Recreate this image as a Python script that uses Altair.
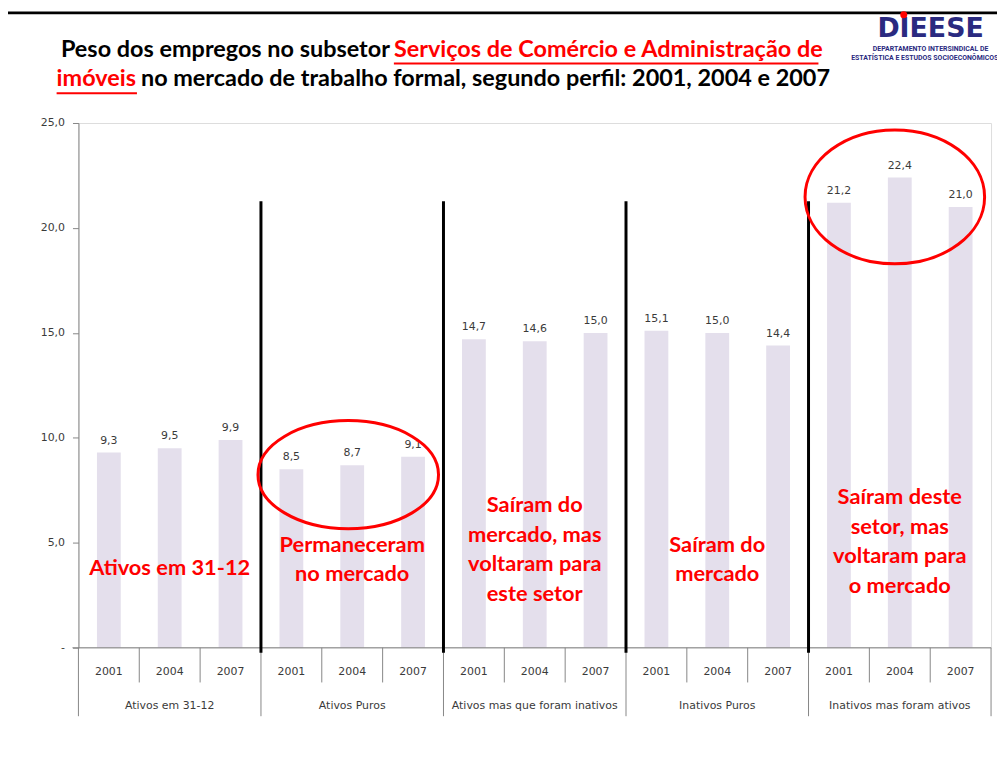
import altair as alt
import pandas as pd

groups = ["Ativos em 31-12", "Ativos Puros", "Ativos mas que foram inativos",
          "Inativos Puros", "Inativos mas foram ativos"]
years = ["2001", "2004", "2007"]
values = [9.3, 9.5, 9.9,
          8.5, 8.7, 9.1,
          14.7, 14.6, 15.0,
          15.1, 15.0, 14.4,
          21.2, 22.4, 21.0]

annotations = ["Ativos em 31-12",
               "Permaneceram\nno mercado",
               "Saíram do\nmercado, mas\nvoltaram para\neste setor",
               "Saíram do\nmercado",
               "Saíram deste\nsetor, mas\nvoltaram para\no mercado"]

rows = []
for gi, g in enumerate(groups):
    for yi, yr in enumerate(years):
        i = gi * 3 + yi
        rows.append({"group": g, "year": yr, "value": values[i], "pos": i + 0.5})
df = pd.DataFrame(rows)

W, H = 920, 529
xs = alt.Scale(domain=[0, 15], nice=False, zero=False, padding=0)
ys = alt.Scale(domain=[0, 25], nice=False, padding=0)
AX = "#868686"
TXT = "#3a3a3a"
FONT = "DejaVu Sans"
RED = "#ff0000"

y_axis = alt.Axis(values=[0, 5, 10, 15, 20, 25], grid=False, title=None,
                  labelExpr="datum.value == 0 ? '-' : replace(format(datum.value, '.1f'), '.', ',')",
                  domainColor=AX, tickColor=AX, tickSize=6, labelPadding=8,
                  labelFont=FONT, labelFontSize=11, labelColor=TXT)

base = alt.Chart(df)

bars = base.mark_bar(size=24, color="#e4dfec").encode(
    x=alt.X("pos:Q", scale=xs, axis=None),
    y=alt.Y("value:Q", scale=ys, axis=y_axis),
)

vlabels = base.transform_calculate(
    lab="replace(format(datum.value, '.1f'), '.', ',')"
).mark_text(baseline="bottom", dy=-7, font=FONT, fontSize=11, color=TXT).encode(
    x=alt.X("pos:Q", scale=xs, axis=None),
    y=alt.Y("value:Q", scale=ys, axis=y_axis),
    text="lab:N",
)

one = pd.DataFrame({"a": [0]})

# x-axis baseline
xline = alt.Chart(one).mark_rule(color=AX, strokeWidth=1).encode(
    x=alt.value(-6), x2=alt.value(W), y=alt.value(H))

# separators below axis
year_sep = pd.DataFrame({"p": [i for i in range(16) if i % 3 != 0]})
group_sep = pd.DataFrame({"p": [i for i in range(16) if i % 3 == 0]})
ysep = alt.Chart(year_sep).mark_rule(color=AX, strokeWidth=1).encode(
    x=alt.X("p:Q", scale=xs, axis=None), y=alt.value(H), y2=alt.value(H + 35))
gsep = alt.Chart(group_sep).mark_rule(color=AX, strokeWidth=1).encode(
    x=alt.X("p:Q", scale=xs, axis=None), y=alt.value(H), y2=alt.value(H + 69))

year_lab = base.mark_text(font=FONT, fontSize=11, color=TXT, baseline="middle").encode(
    x=alt.X("pos:Q", scale=xs, axis=None), y=alt.value(H + 24), text="year:N")

gdf = pd.DataFrame({"group": groups, "gpos": [gi * 3 + 1.5 for gi in range(len(groups))],
                    "ann": annotations})
group_lab = alt.Chart(gdf).mark_text(font=FONT, fontSize=11, color=TXT, baseline="middle").encode(
    x=alt.X("gpos:Q", scale=xs, axis=None), y=alt.value(H + 59), text="group:N")

# thick black separators between groups
thick = alt.Chart(pd.DataFrame({"p": [3, 6, 9, 12]})).mark_rule(color="black", strokeWidth=3).encode(
    x=alt.X("p:Q", scale=xs, axis=None), y=alt.value(79), y2=alt.value(H + 5))

# red annotations (y = first line)
ann_y = [449, 425, 385, 425, 377]
ann_layers = []
for gi in range(len(groups)):
    d = gdf.iloc[[gi]]
    ann_layers.append(
        alt.Chart(d).mark_text(font="Lato", fontSize=22, fontWeight="bold", color=RED,
                               lineBreak="\n", lineHeight=30, baseline="middle").encode(
            x=alt.X("gpos:Q", scale=xs, axis=None), y=alt.value(ann_y[gi]), text="ann:N")
    )

# ellipses
def ellipse_path(b):
    k = 0.5523
    return (f"M-1,0C-1,{-k*b:.4f} {-k:.4f},{-b:.4f} 0,{-b:.4f}"
            f"C{k:.4f},{-b:.4f} 1,{-k*b:.4f} 1,0"
            f"C1,{k*b:.4f} {k:.4f},{b:.4f} 0,{b:.4f}"
            f"C{-k:.4f},{b:.4f} -1,{k*b:.4f} -1,0Z")

def ellipse(cx, cy, rx, ry):
    return alt.Chart(one).mark_point(
        shape=ellipse_path(ry / rx), size=(2 * rx) ** 2, filled=False,
        stroke=RED, strokeWidth=3, opacity=1).encode(x=alt.value(cx), y=alt.value(cy))

ell1 = ellipse(272, 354.5, 91, 54.5)
ell2 = ellipse(823, 74.5, 90.5, 67.5)

# frame
frame_top = alt.Chart(one).mark_rule(color="black", strokeWidth=3).encode(
    x=alt.value(-77), x2=alt.value(930), y=alt.value(-111))
frame_left = alt.Chart(one).mark_rule(color="black", strokeWidth=3).encode(
    x=alt.value(-77), y=alt.value(-112), y2=alt.value(650))

# title
TF = "Lato"
TS = 23.6
def ttext(txt, x, y, align, color):
    return alt.Chart(pd.DataFrame({"t": [txt]})).mark_text(
        font=TF, fontSize=TS, fontWeight="bold", color=color, align=align, baseline="middle").encode(
        x=alt.value(x), y=alt.value(y), text="t:N")

t1a = ttext("Peso dos empregos no subsetor", 314, -74, "right", "black")
t1b = ttext("Serviços de Comércio e Administração de", 318, -74, "left", RED)
t2a = ttext("imóveis", -22, -44, "left", RED)
t2b = ttext("no mercado de trabalho formal, segundo perfil: 2001, 2004 e 2007", 63, -44, "left", "black")
u1 = alt.Chart(one).mark_rule(color=RED, strokeWidth=2).encode(
    x=alt.value(318), x2=alt.value(746), y=alt.value(-60))
u2 = alt.Chart(one).mark_rule(color=RED, strokeWidth=2).encode(
    x=alt.value(-22), x2=alt.value(59), y=alt.value(-30))

# logo
NAVY = "#2a2a80"
logo = alt.Chart(pd.DataFrame({"t": ["DIEESE"]})).mark_text(
    font="DejaVu Sans", fontSize=27, fontWeight="bold", color=NAVY, align="center",
    baseline="alphabetic").encode(x=alt.value(859), y=alt.value(-87), text="t:N")
logo_dot = alt.Chart(one).mark_point(shape="circle", size=50, filled=True, color=RED, opacity=1).encode(
    x=alt.value(832), y=alt.value(-109))
logo_l1 = alt.Chart(pd.DataFrame({"t": ["DEPARTAMENTO INTERSINDICAL DE"]})).mark_text(
    font="Roboto", fontSize=7, fontWeight="bold", color=NAVY, align="center",
    baseline="middle").encode(x=alt.value(859), y=alt.value(-75), text="t:N")
logo_l2 = alt.Chart(pd.DataFrame({"t": ["ESTATÍSTICA E ESTUDOS SOCIOECONÔMICOS"]})).mark_text(
    font="Roboto", fontSize=7, fontWeight="bold", color=NAVY, align="left",
    baseline="middle").encode(x=alt.value(779), y=alt.value(-65), text="t:N")

chart = alt.layer(
    bars, vlabels, xline, ysep, gsep, year_lab, group_lab, thick,
    *ann_layers, ell1, ell2, frame_top, frame_left,
    t1a, t1b, t2a, t2b, u1, u2, logo, logo_dot, logo_l1, logo_l2,
).properties(
    width=W, height=H,
    autosize=alt.AutoSizeParams(type="none"),
    padding={"left": 71, "top": 113, "right": 6, "bottom": 80},
).configure_view(stroke=None).configure(background="white")

chart.save("out.html", embed_options={"renderer": "svg", "actions": False})
